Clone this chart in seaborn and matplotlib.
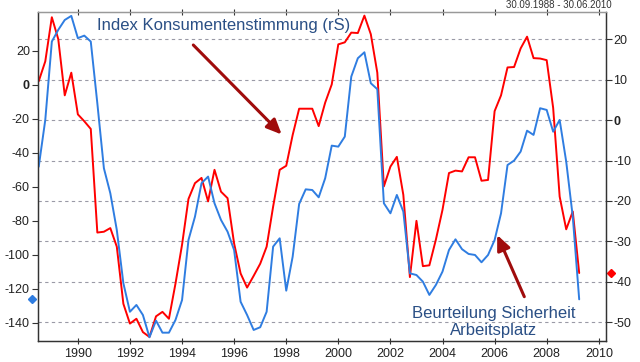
import matplotlib
matplotlib.use('Agg')
import matplotlib.pyplot as plt
import matplotlib.transforms as mtransforms
import pandas as pd
import seaborn as sns

# quarterly values, 1988Q2 .. 2009Q1
quarters = pd.period_range('1988Q2', '2009Q1', freq='Q')

# Index Konsumentenstimmung (right scale)
konsum = [9.6, 14.5, 25.4, 20.0, 6.1, 11.7, 1.4, -0.3, -2.2, -27.8,
          -27.6, -26.7, -31.3, -45.4, -50.3, -49.1, -52.4, -53.6, -48.5, -47.4,
          -49.1, -40.4, -30.8, -19.5, -15.6, -14.3, -20.1, -12.3, -17.7, -19.3,
          -30.5, -37.9, -41.4, -38.5, -35.5, -31.3, -21.4, -12.3, -11.3, -3.7,
          2.8, 2.8, 2.8, -1.5, 4.3, 8.8, 18.7, 19.2, 21.6, 21.5,
          25.8, 21.2, 11.7, -16.4, -11.5, -9.1, -18.5, -38.8, -24.9, -36.1,
          -35.9, -29.5, -22.2, -13.1, -12.5, -12.7, -9.2, -9.2, -15.0, -14.8,
          2.2, 6.1, 13.0, 13.1, 17.7, 20.6, 15.3, 15.2, 14.8, 3.0,
          -18.9, -27.0, -22.6, -37.8]

# Beurteilung Sicherheit Arbeitsplatz (left scale)
arbeitsplatz = [-48.1, -20.6, 25.5, 32.4, 38.2, 40.6, 27.5, 29.0, 25.5, -10.8,
                -49.0, -63.7, -85.3, -116.6, -133.4, -129.4, -135.3, -148.4, -138.6, -145.7,
                -145.7, -138.2, -126.5, -91.2, -77.5, -57.8, -53.9, -69.6, -79.4, -86.3,
                -97.1, -127.5, -135.3, -144.1, -142.5, -133.4, -95.1, -90.2, -121.0, -101.0,
                -70.0, -61.4, -61.8, -66.1, -54.9, -35.7, -36.3, -30.4, 4.9, 15.7,
                19.2, 1.0, -2.5, -69.6, -75.5, -64.7, -74.5, -110.8, -111.8, -115.7,
                -123.5, -117.6, -109.8, -97.1, -90.8, -96.6, -99.4, -100.0, -104.3, -100.0,
                -91.2, -75.5, -47.1, -44.5, -39.2, -26.9, -29.4, -13.7, -14.7, -27.5,
                -20.6, -45.1, -77.5, -126.1]

left_ticks = [20, 0, -20, -40, -60, -80, -100, -120, -140]
right_ticks = [20, 10, 0, -10, -20, -30, -40, -50]
year_ticks = list(range(1990, 2011, 2))

RED = '#ff0000'
BLUE = '#2f7de1'
ARROW = '#a00c0c'
TEXT = '#2a4f85'

df = pd.DataFrame({'date': quarters.end_time.normalize(),
                   'konsum': konsum,
                   'arbeitsplatz': arbeitsplatz})

sns.set_theme(style='white')
plt.rcParams['font.family'] = ['Liberation Sans', 'DejaVu Sans']

fig = plt.figure(figsize=(6.4, 3.62), dpi=100)
ax = fig.add_axes([0.0586, 0.058, 0.8875, 0.9089])
axl = ax.twinx()

sns.lineplot(data=df, x='date', y='konsum', ax=ax, color=RED, lw=1.4, estimator=None)
sns.lineplot(data=df, x='date', y='arbeitsplatz', ax=axl, color=BLUE, lw=1.4, estimator=None)

ax.yaxis.tick_right()
axl.yaxis.tick_left()
for a in (ax, axl):
    a.set_xlabel('')
    a.set_ylabel('')

ax.set_yticks(right_ticks, labels=[str(t) for t in right_ticks])
ax.set_ylim(-54.6, 26.7)
axl.set_yticks(left_ticks, labels=[str(t) for t in left_ticks])
axl.set_ylim(-150.6, 42.9)
for a in (ax, axl):
    for lbl in a.get_yticklabels():
        if lbl.get_text() == '0':
            lbl.set_fontweight('bold')

ax.set_xticks([pd.Timestamp(f'{y}-01-01') for y in year_ticks],
              labels=[str(y) for y in year_ticks])
ax.set_xlim(pd.Timestamp('1988-06-13'), pd.Timestamp('2010-04-04'))

ax.yaxis.grid(True, color='#9a9aa6', linestyle=(0, (3, 3)), linewidth=0.8)
ax.xaxis.grid(False)
axl.grid(False)

ax.tick_params(axis='y', right=True, left=False, direction='out', length=4, width=0.8,
               color='#333333', pad=1.5, labelsize=9, labelcolor='#222222')
axl.tick_params(axis='y', left=True, right=False, direction='out', length=4, width=0.8,
                color='#333333', pad=1.5, labelsize=9, labelcolor='#222222')
ax.tick_params(axis='x', top=True, bottom=True, direction='inout', length=4, width=0.8,
               color='#333333', pad=3, labelsize=9, labelcolor='#222222')

for a in (ax, axl):
    for side in ('left', 'right', 'bottom'):
        a.spines[side].set_color('#333333')
        a.spines[side].set_linewidth(0.9)
    a.spines['top'].set_color('#999999')
    a.spines['top'].set_linewidth(0.9)

# last-value markers beside the scales
tl = mtransforms.blended_transform_factory(axl.transAxes, axl.transData)
axl.plot([-0.0097], [arbeitsplatz[-1]], marker='D', ms=4, color=BLUE, ls='none',
         transform=tl, clip_on=False)
tr = mtransforms.blended_transform_factory(ax.transAxes, ax.transData)
ax.plot([1.0088], [konsum[-1]], marker='D', ms=4, color=RED, ls='none',
        transform=tr, clip_on=False)

W, H = 640, 362
fig.text(97.3 / W, 1 - 25.8 / H, 'Index Konsumentenstimmung (rS)', ha='left', va='center',
         fontsize=12, color=TEXT)
fig.text(494 / W, 1 - 321.7 / H, 'Beurteilung Sicherheit\nArbeitsplatz', ha='center',
         va='center', multialignment='center', linespacing=1.15, fontsize=12, color=TEXT)
fig.text(612 / W, 1 - 5.5 / H, '30.09.1988 - 30.06.2010', ha='right', va='center',
         fontsize=7, color='#333333')

arrow = dict(arrowstyle='-|>,head_length=0.9,head_width=0.4', color=ARROW, lw=2.2,
             shrinkA=0, shrinkB=0, mutation_scale=10)
ax.annotate('', xy=(281.7, H - 134.5), xytext=(193.3, H - 45), xycoords='figure pixels',
            textcoords='figure pixels', arrowprops=arrow)
ax.annotate('', xy=(497.2, H - 235), xytext=(524.3, H - 296.7), xycoords='figure pixels',
            textcoords='figure pixels', arrowprops=arrow)

fig.savefig('out.png', dpi=100)
